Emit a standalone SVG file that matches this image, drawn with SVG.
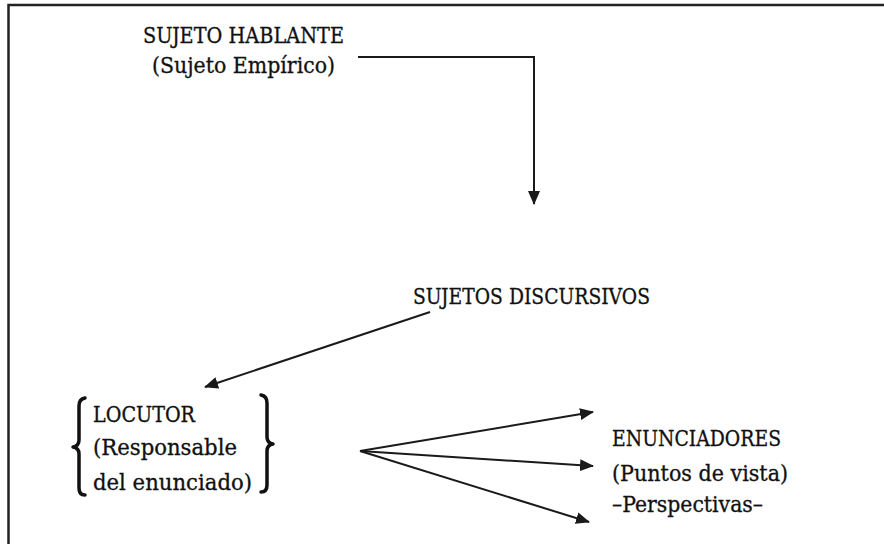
<svg xmlns="http://www.w3.org/2000/svg" width="884" height="544" viewBox="0 0 884 544">
<style>
.t{font-family:'DejaVu Serif Condensed','DejaVu Serif','Liberation Serif',serif;font-stretch:condensed;font-size:23px;fill:#111;stroke:#111;stroke-width:0.3}
.c{fill:none;stroke:#1a1a1a;stroke-width:2}
.b{fill:none;stroke:#111;stroke-width:3.5;stroke-linejoin:round;stroke-linecap:round}
</style>
<defs>
<marker id="ah" markerUnits="userSpaceOnUse" markerWidth="14" markerHeight="12" viewBox="0 0 14 12" refX="13" refY="6" orient="auto">
<path d="M0,0 L14,6 L0,12 Z" fill="#1a1a1a"/>
</marker>
</defs>
<rect width="884" height="544" fill="#fff"/>
<path d="M8.5,544 V5 H884" fill="none" stroke="#222" stroke-width="2.5"/>
<g id="sujeto-hablante">
<text class="t" x="143" y="43" textLength="201" lengthAdjust="spacingAndGlyphs">SUJETO HABLANTE</text>
<text class="t" x="152" y="73" textLength="183" lengthAdjust="spacingAndGlyphs">(Sujeto Empírico)</text>
</g>
<g id="sujetos-discursivos">
<text class="t" x="413" y="304" textLength="237" lengthAdjust="spacingAndGlyphs">SUJETOS DISCURSIVOS</text>
</g>
<g id="locutor">
<path class="b" d="M85,398 Q79,399 79,406 V440 Q79,446 73,447 Q79,448 79,454 V488 Q79,495 85,495"/>
<path class="b" d="M261,395 Q267,396 267,403 V437 Q267,443 273,444 Q267,445 267,451 V485 Q267,492 261,492"/>
<text class="t" x="93" y="422" textLength="102" lengthAdjust="spacingAndGlyphs">LOCUTOR</text>
<text class="t" x="93" y="455" textLength="144" lengthAdjust="spacingAndGlyphs">(Responsable</text>
<text class="t" x="93" y="490" textLength="159" lengthAdjust="spacingAndGlyphs">del enunciado)</text>
</g>
<g id="enunciadores">
<text class="t" x="612" y="446" textLength="169" lengthAdjust="spacingAndGlyphs">ENUNCIADORES</text>
<text class="t" x="612" y="481" textLength="176" lengthAdjust="spacingAndGlyphs">(Puntos de vista)</text>
<text class="t" x="612" y="512" textLength="151" lengthAdjust="spacingAndGlyphs">–Perspectivas–</text>
</g>
<g id="connectors">
<path class="c" d="M358,57 H534 V204" marker-end="url(#ah)"/>
<path class="c" d="M430,312 L205,387" marker-end="url(#ah)"/>
<path class="c" d="M360,451 L593,412" marker-end="url(#ah)"/>
<path class="c" d="M360,451 L593,466" marker-end="url(#ah)"/>
<path class="c" d="M360,451 L589,522" marker-end="url(#ah)"/>
</g>
</svg>
